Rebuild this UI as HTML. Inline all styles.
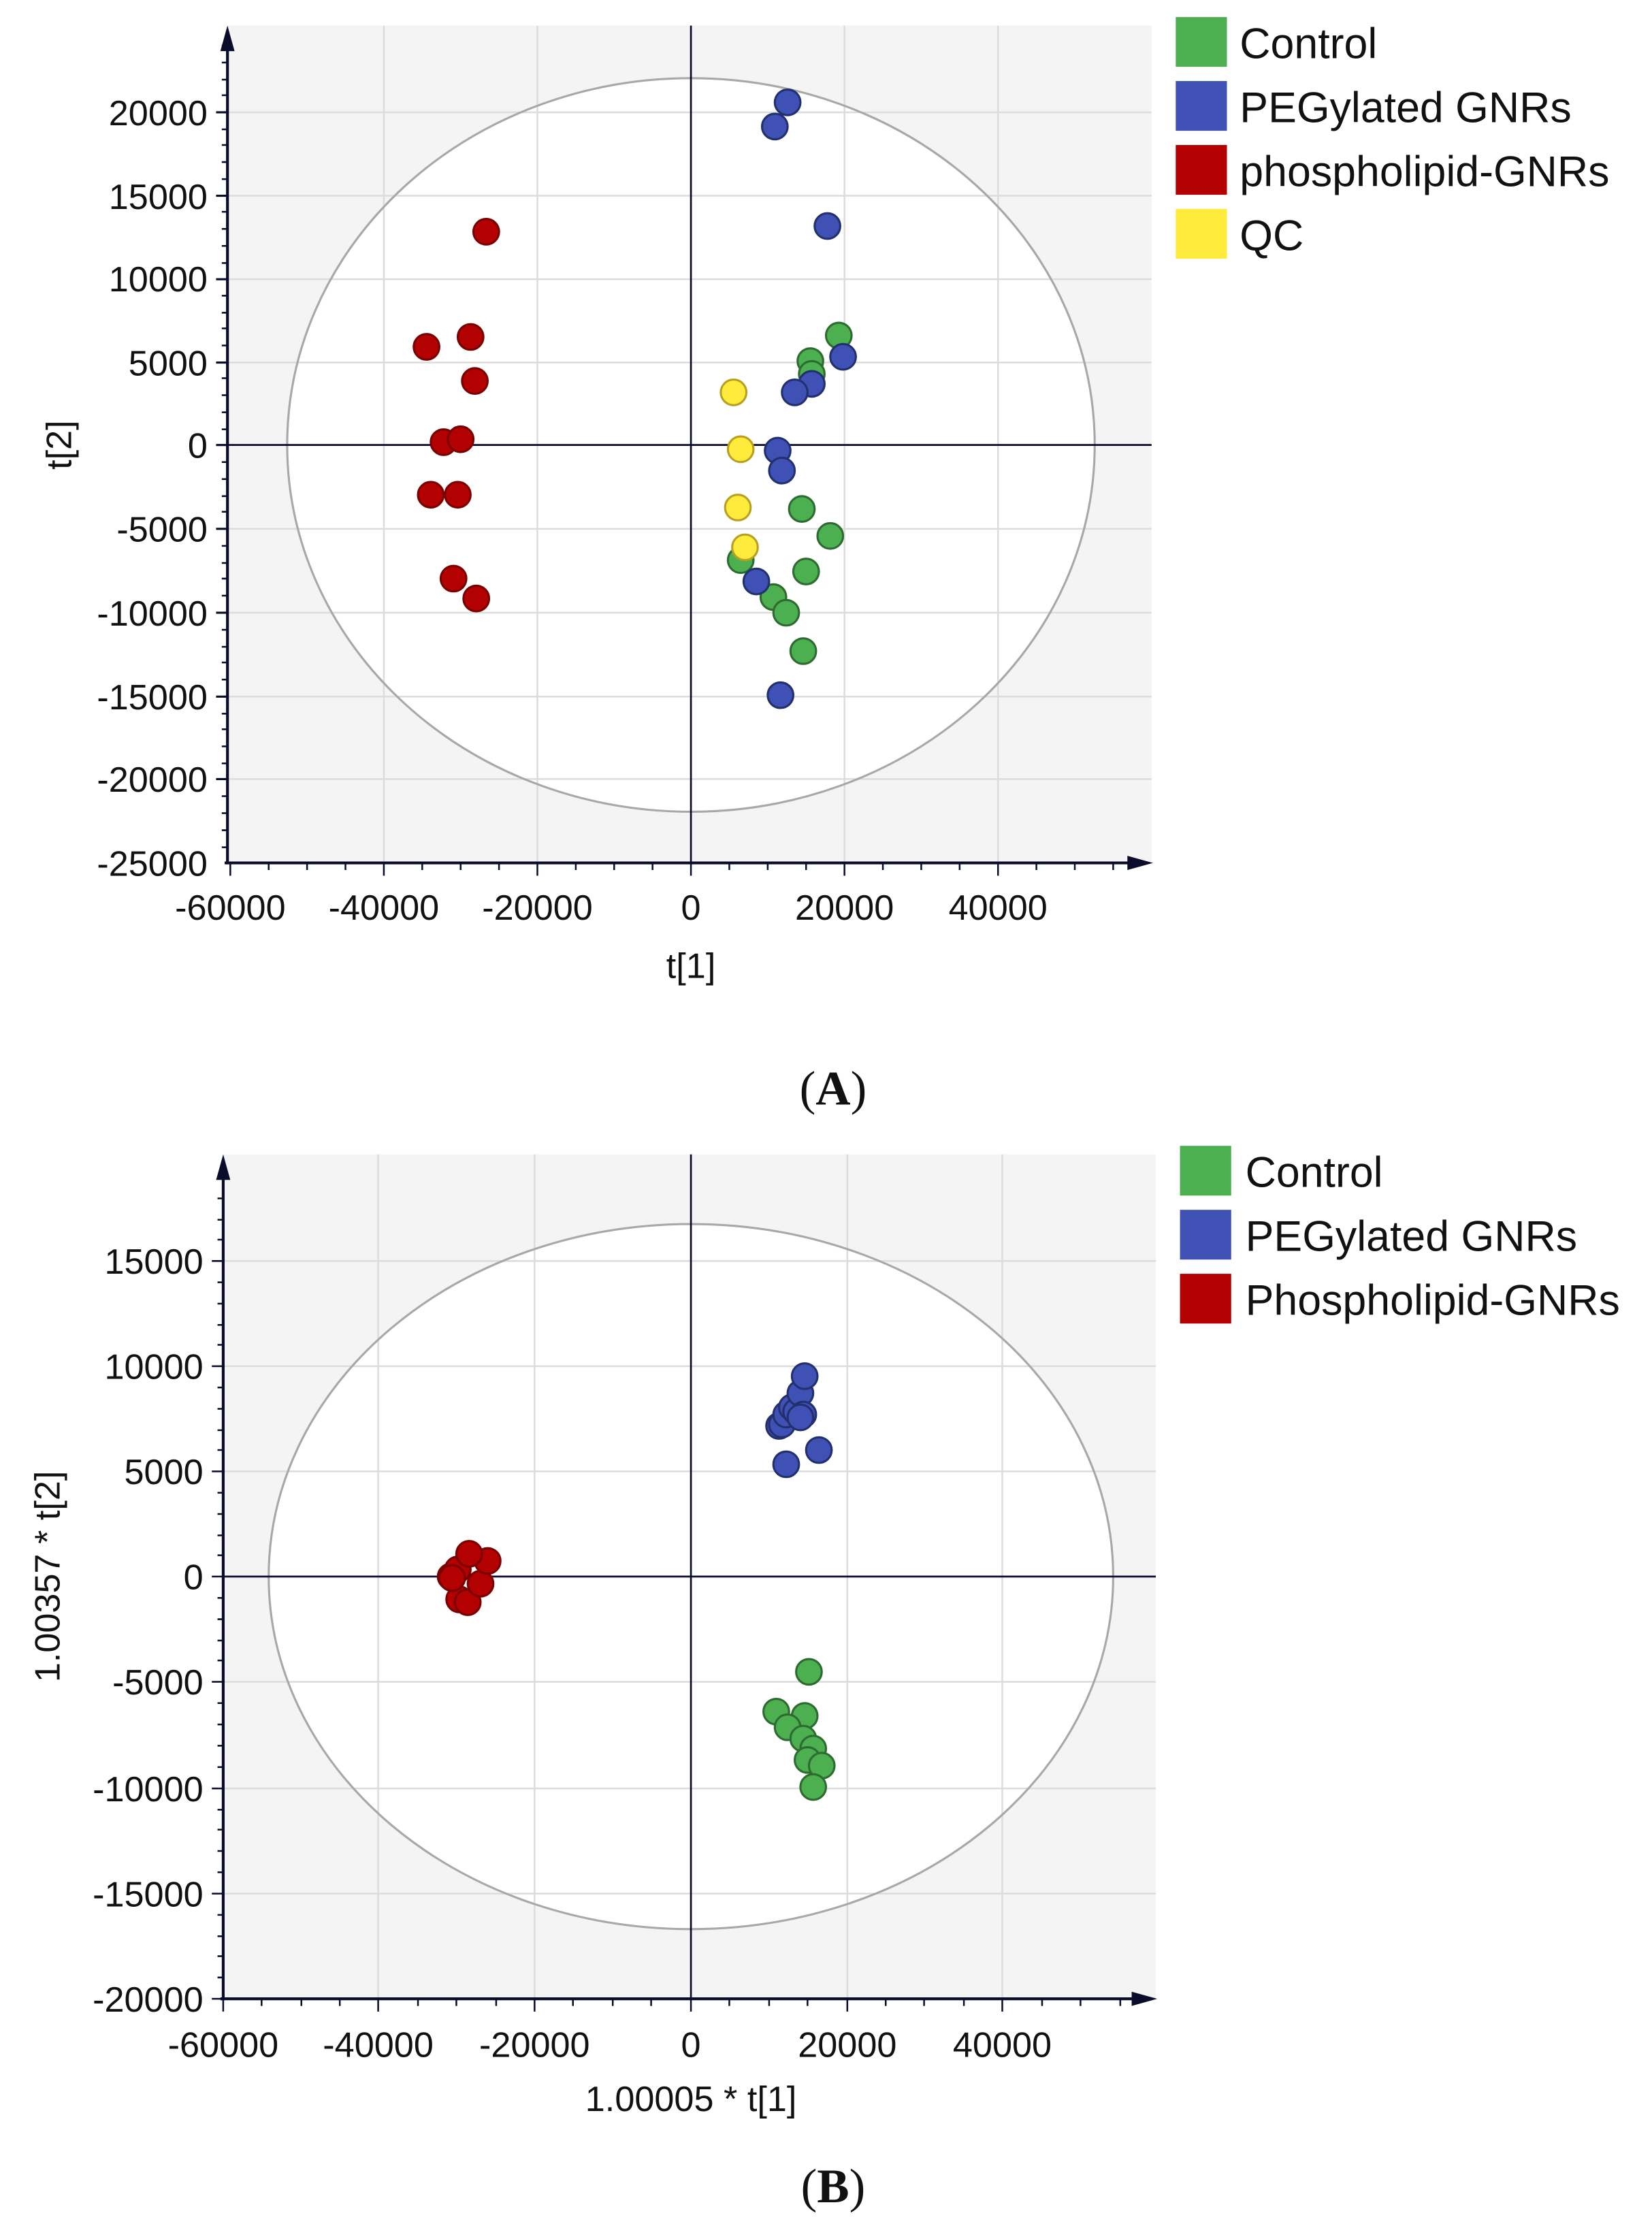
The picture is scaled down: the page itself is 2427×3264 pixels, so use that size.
<!DOCTYPE html>
<html><head><meta charset="utf-8"><style>html,body{margin:0;padding:0;background:#fff}svg{display:block}</style></head>
<body>
<svg width="2427" height="3264" viewBox="0 0 1162 1563" preserveAspectRatio="none" xmlns="http://www.w3.org/2000/svg" font-family="Liberation Sans, sans-serif">
<rect width="1162" height="1563" fill="#fff"/>
<!-- ===== Chart A ===== -->
<rect x="160" y="18" width="650" height="589" fill="#f4f4f4"/>
<ellipse cx="486" cy="313" rx="284" ry="258" fill="#fff"/>
<g stroke="#dcdcdc" stroke-width="1.2">
<line x1="270" y1="18" x2="270" y2="607"/><line x1="378" y1="18" x2="378" y2="607"/><line x1="594" y1="18" x2="594" y2="607"/><line x1="702" y1="18" x2="702" y2="607"/>
<line x1="160" y1="79" x2="810" y2="79"/><line x1="160" y1="137.7" x2="810" y2="137.7"/><line x1="160" y1="196.4" x2="810" y2="196.4"/><line x1="160" y1="255" x2="810" y2="255"/><line x1="160" y1="372" x2="810" y2="372"/><line x1="160" y1="431" x2="810" y2="431"/><line x1="160" y1="490" x2="810" y2="490"/><line x1="160" y1="548" x2="810" y2="548"/>
</g>
<ellipse cx="486" cy="313" rx="284" ry="258" fill="none" stroke="#a8a8a8" stroke-width="1.5"/>
<g stroke="#0b0b2b" stroke-width="1.3"><line x1="486" y1="18" x2="486" y2="607"/><line x1="160" y1="313" x2="810" y2="313"/></g>
<g stroke="#0b0b2b" stroke-width="2"><line x1="160" y1="30" x2="160" y2="608"/><line x1="158" y1="607" x2="795" y2="607"/></g>
<polygon points="160,18 155,36 165,36" fill="#0b0b2b"/><polygon points="811,607 793,602 793,612" fill="#0b0b2b"/>
<g stroke="#0b0b2b" stroke-width="1.5">
<line x1="152" y1="79" x2="160" y2="79"/><line x1="152" y1="137.7" x2="160" y2="137.7"/><line x1="152" y1="196.4" x2="160" y2="196.4"/><line x1="152" y1="255" x2="160" y2="255"/><line x1="152" y1="313" x2="160" y2="313"/><line x1="152" y1="372" x2="160" y2="372"/><line x1="152" y1="431" x2="160" y2="431"/><line x1="152" y1="490" x2="160" y2="490"/><line x1="152" y1="548" x2="160" y2="548"/>
</g>
<g stroke="#0b0b2b" stroke-width="1.2" fill="none">
<path d="M156 32h4M156 44h4M156 56h4M156 67h4M156 91h4M156 102h4M156 114h4M156 126h4M156 149h4M156 161h4M156 173h4M156 185h4M156 208h4M156 220h4M156 231h4M156 243h4M156 266h4M156 278h4M156 290h4M156 302h4M156 325h4M156 337h4M156 349h4M156 360h4M156 384h4M156 396h4M156 407h4M156 419h4M156 443h4M156 455h4M156 466h4M156 478h4M156 502h4M156 513h4M156 525h4M156 537h4M156 560h4M156 572h4M156 584h4M156 596h4"/>
<path d="M162 607v9M270 607v9M378 607v9M486 607v9M594 607v9M702 607v9M189 607v5M216 607v5M243 607v5M297 607v5M324 607v5M351 607v5M405 607v5M432 607v5M459 607v5M513 607v5M540 607v5M567 607v5M621 607v5M648 607v5M675 607v5M729 607v5M756 607v5M783 607v5"/>
</g>
<g font-size="25" fill="#111" text-anchor="end">
<text x="146" y="88">20000</text><text x="146" y="147">15000</text><text x="146" y="205">10000</text><text x="146" y="264">5000</text><text x="146" y="322">0</text><text x="146" y="381">-5000</text><text x="146" y="440">-10000</text><text x="146" y="499">-15000</text><text x="146" y="557">-20000</text><text x="146" y="616">-25000</text>
</g>
<g font-size="25" fill="#111" text-anchor="middle">
<text x="162" y="647">-60000</text><text x="270" y="647">-40000</text><text x="378" y="647">-20000</text><text x="486" y="647">0</text><text x="594" y="647">20000</text><text x="702" y="647">40000</text>
<text x="486" y="688" font-size="25">t[1]</text>
</g>
<text transform="translate(50,313) rotate(-90)" font-size="25" text-anchor="middle" fill="#111">t[2]</text>
<g stroke-width="1.5">
<g fill="#b30000" stroke="#7a0000">
<circle cx="342" cy="163" r="9"/><circle cx="300" cy="244" r="9"/><circle cx="331" cy="237" r="9"/><circle cx="334" cy="268" r="9"/><circle cx="312" cy="311" r="9"/><circle cx="324" cy="309" r="9"/><circle cx="303" cy="348" r="9"/><circle cx="322" cy="348" r="9"/><circle cx="319" cy="407" r="9"/><circle cx="335" cy="421" r="9"/>
</g>
<g fill="#4caf50" stroke="#2e6b30">
<circle cx="590" cy="236" r="9"/><circle cx="570" cy="254" r="9"/><circle cx="571" cy="263" r="9"/><circle cx="564" cy="358" r="9"/><circle cx="584" cy="377" r="9"/><circle cx="567" cy="402" r="9"/><circle cx="521" cy="394" r="9"/><circle cx="544" cy="420" r="9"/><circle cx="553" cy="431" r="9"/><circle cx="565" cy="458" r="9"/>
</g>
<g fill="#3f51b5" stroke="#23306e">
<circle cx="554" cy="72" r="9"/><circle cx="545" cy="89" r="9"/><circle cx="582" cy="159" r="9"/><circle cx="593" cy="251" r="9"/><circle cx="571" cy="270" r="9"/><circle cx="559" cy="276" r="9"/><circle cx="547" cy="317" r="9"/><circle cx="550" cy="331" r="9"/><circle cx="532" cy="409" r="9"/><circle cx="549" cy="489" r="9"/>
</g>
<g fill="#ffeb3b" stroke="#b8a020">
<circle cx="516" cy="276" r="9"/><circle cx="521" cy="316" r="9"/><circle cx="519" cy="357" r="9"/><circle cx="524" cy="385" r="9"/>
</g>
</g>
<rect x="827" y="12" width="36" height="35" fill="#4caf50"/><rect x="827" y="57" width="36" height="35" fill="#3f51b5"/><rect x="827" y="102" width="36" height="35" fill="#b30000"/><rect x="827" y="147" width="36" height="35" fill="#ffeb3b"/>
<g font-size="30" fill="#111"><text x="872" y="41">Control</text><text x="872" y="86">PEGylated GNRs</text><text x="872" y="131">phospholipid-GNRs</text><text x="872" y="176">QC</text></g>
<text x="586" y="777" font-family="Liberation Serif, serif" font-size="34" text-anchor="middle" fill="#111">(<tspan font-weight="bold">A</tspan>)</text>

<!-- ===== Chart B ===== -->
<rect x="157" y="812" width="656" height="594" fill="#f4f4f4"/>
<ellipse cx="486" cy="1109" rx="297" ry="248" fill="#fff"/>
<g stroke="#dcdcdc" stroke-width="1.2">
<line x1="266" y1="812" x2="266" y2="1406"/><line x1="376" y1="812" x2="376" y2="1406"/><line x1="596" y1="812" x2="596" y2="1406"/><line x1="705" y1="812" x2="705" y2="1406"/>
<line x1="157" y1="887" x2="813" y2="887"/><line x1="157" y1="961" x2="813" y2="961"/><line x1="157" y1="1035" x2="813" y2="1035"/><line x1="157" y1="1183" x2="813" y2="1183"/><line x1="157" y1="1258" x2="813" y2="1258"/><line x1="157" y1="1332" x2="813" y2="1332"/>
</g>
<ellipse cx="486" cy="1109" rx="297" ry="248" fill="none" stroke="#a8a8a8" stroke-width="1.5"/>
<g stroke="#0b0b2b" stroke-width="1.3"><line x1="486" y1="812" x2="486" y2="1406"/><line x1="157" y1="1109" x2="813" y2="1109"/></g>
<g stroke="#0b0b2b" stroke-width="2"><line x1="157" y1="825" x2="157" y2="1407"/><line x1="155" y1="1406" x2="797" y2="1406"/></g>
<polygon points="157,812 152,830 162,830" fill="#0b0b2b"/><polygon points="814,1406 796,1401 796,1411" fill="#0b0b2b"/>
<g stroke="#0b0b2b" stroke-width="1.2" fill="none">
<path d="M149 887h8M149 961h8M149 1035h8M149 1109h8M149 1183h8M149 1258h8M149 1332h8M149 1406h8"/>
<path d="M153 828h4M153 843h4M153 858h4M153 872h4M153 902h4M153 917h4M153 932h4M153 946h4M153 976h4M153 991h4M153 1006h4M153 1020h4M153 1050h4M153 1065h4M153 1080h4M153 1094h4M153 1124h4M153 1139h4M153 1154h4M153 1168h4M153 1198h4M153 1213h4M153 1228h4M153 1243h4M153 1273h4M153 1287h4M153 1302h4M153 1317h4M153 1347h4M153 1362h4M153 1376h4M153 1391h4"/>
<path d="M157 1406v9M266 1406v9M376 1406v9M486 1406v9M596 1406v9M705 1406v9M184 1406v5M212 1406v5M239 1406v5M294 1406v5M321 1406v5M349 1406v5M403 1406v5M431 1406v5M458 1406v5M513 1406v5M541 1406v5M568 1406v5M623 1406v5M650 1406v5M678 1406v5M733 1406v5M760 1406v5M788 1406v5"/>
</g>
<g font-size="25" fill="#111" text-anchor="end">
<text x="143" y="896">15000</text><text x="143" y="970">10000</text><text x="143" y="1044">5000</text><text x="143" y="1118">0</text><text x="143" y="1192">-5000</text><text x="143" y="1267">-10000</text><text x="143" y="1341">-15000</text><text x="143" y="1415">-20000</text>
</g>
<g font-size="25" fill="#111" text-anchor="middle">
<text x="157" y="1447">-60000</text><text x="266" y="1447">-40000</text><text x="376" y="1447">-20000</text><text x="486" y="1447">0</text><text x="596" y="1447">20000</text><text x="705" y="1447">40000</text>
<text x="486" y="1485" font-size="25">1.00005 * t[1]</text>
</g>
<text transform="translate(42,1109) rotate(-90)" font-size="25" text-anchor="middle" fill="#111">1.00357 * t[2]</text>
<g stroke-width="1.5">
<g fill="#b30000" stroke="#7a0000">
<circle cx="317" cy="1109" r="9"/><circle cx="323" cy="1125" r="9"/><circle cx="329" cy="1127" r="9"/><circle cx="338" cy="1114" r="9"/><circle cx="322" cy="1104" r="9"/><circle cx="318" cy="1110" r="9"/><circle cx="343" cy="1098" r="9"/><circle cx="330" cy="1093" r="9"/>
</g>
<g fill="#3f51b5" stroke="#23306e">
<circle cx="576" cy="1020" r="9"/><circle cx="553" cy="1030" r="9"/><circle cx="548" cy="1003" r="9"/><circle cx="550" cy="1002" r="9"/><circle cx="553" cy="995" r="9"/><circle cx="557" cy="990" r="9"/><circle cx="560" cy="993" r="9"/><circle cx="563" cy="980" r="9"/><circle cx="565" cy="995" r="9"/><circle cx="563" cy="997" r="9"/><circle cx="566" cy="968" r="9"/>
</g>
<g fill="#4caf50" stroke="#2e6b30">
<circle cx="569" cy="1176" r="9"/><circle cx="546" cy="1204" r="9"/><circle cx="566" cy="1207" r="9"/><circle cx="554" cy="1215" r="9"/><circle cx="565" cy="1223" r="9"/><circle cx="572" cy="1230" r="9"/><circle cx="568" cy="1238" r="9"/><circle cx="578" cy="1242" r="9"/><circle cx="572" cy="1257" r="9"/>
</g>
</g>
<rect x="830" y="806" width="36" height="35" fill="#4caf50"/><rect x="830" y="851" width="36" height="35" fill="#3f51b5"/><rect x="830" y="896" width="36" height="35" fill="#b30000"/>
<g font-size="30" fill="#111"><text x="876" y="835">Control</text><text x="876" y="880">PEGylated GNRs</text><text x="876" y="925">Phospholipid-GNRs</text></g>
<text x="586" y="1549" font-family="Liberation Serif, serif" font-size="34" text-anchor="middle" fill="#111">(<tspan font-weight="bold">B</tspan>)</text>
</svg>
</body></html>
